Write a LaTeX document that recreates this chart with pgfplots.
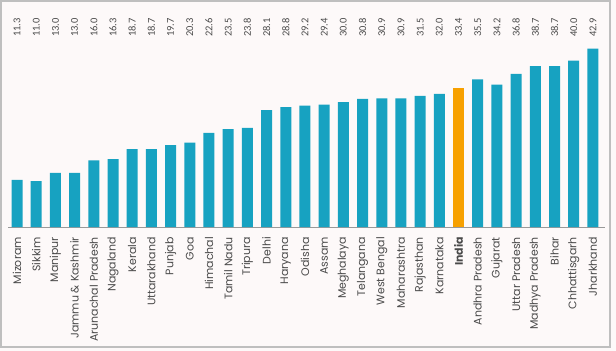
\documentclass[border=0pt]{standalone}
\usepackage{fontspec}
\usepackage{pgfplots}
\usepackage{pgfplotstable}
\pgfplotsset{compat=1.18}
\newfontfamily\labfont{Poppins}
\newfontfamily\numfont{Carlito}
\definecolor{teal}{HTML}{17A2C1}
\definecolor{orng}{HTML}{F7A000}
\definecolor{bg}{HTML}{FDF9F9}
\definecolor{txt}{HTML}{4A4A4A}
\pgfplotstableread[col sep=comma]{
x,y,lab
0,11.3,Mizoram
1,11.0,Sikkim
2,13.0,Manipur
3,13.0,Jammu \& Kashmir
4,16.0,Arunachal Pradesh
5,16.3,Nagaland
6,18.7,Kerala
7,18.7,Uttarakhand
8,19.7,Punjab
9,20.3,Goa
10,22.6,Himachal
11,23.5,Tamil Nadu
12,23.8,Tripura
13,28.1,Delhi
14,28.8,Haryana
15,29.2,Odisha
16,29.4,Assam
17,30.0,Meghalaya
18,30.8,Telangana
19,30.9,West Bengal
20,30.9,Maharashtra
21,31.5,Rajasthan
22,32.0,Karnataka
23,33.4,\textbf{India}
24,35.5,Andhra Pradesh
25,34.2,Gujarat
26,36.8,Uttar Pradesh
27,38.7,Madhya Pradesh
28,38.7,Bihar
29,40.0,Chhattisgarh
30,42.9,Jharkhand
}\data
\pgfplotstableread[col sep=comma]{
x,y
0,11.3
1,11.0
2,13.0
3,13.0
4,16.0
5,16.3
6,18.7
7,18.7
8,19.7
9,20.3
10,22.6
11,23.5
12,23.8
13,28.1
14,28.8
15,29.2
16,29.4
17,30.0
18,30.8
19,30.9
20,30.9
21,31.5
22,32.0
24,35.5
25,34.2
26,36.8
27,38.7
28,38.7
29,40.0
30,42.9
}\states
\pgfplotstableread[col sep=comma]{
x,y
23,33.4
}\india
\begin{document}
\begin{tikzpicture}
\fill[bg, use as bounding box] (0,0) rectangle (616bp,-351bp);
\draw[black!25, line width=1.2bp] (1bp,-1bp) rectangle (610bp,-347bp);
\begin{axis}[
  at={(8bp,-227bp)}, anchor=south west,
  scale only axis, width=597bp, height=187.2bp,
  xmin=-0.47, xmax=30.63, ymin=0, ymax=45,
  axis x line=bottom, axis y line=none,
  x axis line style={black!40, line width=0.8bp, -},
  ytick=\empty,
  xtick={0,...,30},
  xticklabels from table={\data}{lab},
  major tick length=0pt,
  xticklabel style={rotate=90, anchor=east, inner sep=0pt, font=\labfont\fontsize{11}{13}\selectfont, text=txt},
  xticklabel shift=10bp,
  clip=false,
]
\addplot[ybar, bar width=11bp, bar shift=0pt, fill=teal, draw=none] table[x=x, y=y] {\states};
\addplot[ybar, bar width=11bp, bar shift=0pt, fill=orng, draw=none] table[x=x, y=y] {\india};
\pgfplotsinvokeforeach{0,...,30}{
  \pgfplotstablegetelem{#1}{y}\of\data
  \edef\temp{\noexpand\node[rotate=90, anchor=east, inner sep=0pt, font=\noexpand\numfont\noexpand\fontsize{10.5}{12}\noexpand\selectfont, text=txt] at (axis cs:#1,50.2) {\pgfplotsretval};}
  \temp
}
\end{axis}
\end{tikzpicture}
\end{document}
